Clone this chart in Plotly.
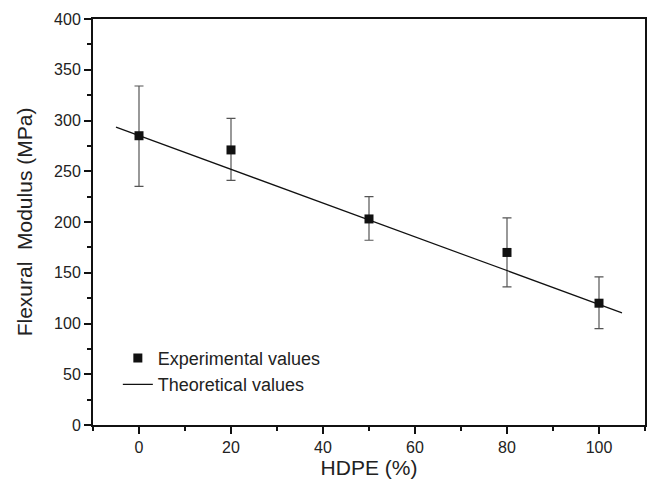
import plotly.graph_objects as go

hdpe = [0, 20, 50, 80, 100]
modulus = [285, 271, 203, 170, 120]
err_plus = [49, 31, 22, 34, 26]
err_minus = [50, 30, 21, 34, 25]

theory_x = [-5, 105]
theory_y = [293.5, 110.5]

x_tick_vals = [0, 20, 40, 60, 80, 100]
y_tick_vals = [0, 50, 100, 150, 200, 250, 300, 350, 400]

FONT = "Liberation Sans, Arial, sans-serif"

fig = go.Figure()
fig.add_trace(go.Scatter(
    x=hdpe, y=modulus, mode="markers", name="Experimental values",
    marker=dict(symbol="square", size=9, color="#111111"),
    error_y=dict(type="data", array=err_plus, arrayminus=err_minus,
                 color="#555555", thickness=1.2, width=4.5),
))
fig.add_trace(go.Scatter(
    x=theory_x, y=theory_y, mode="lines", name="Theoretical values",
    line=dict(color="#111111", width=1.2),
))

axis_common = dict(
    showline=True, linecolor="#111111", linewidth=2, mirror=True,
    ticks="outside", tickcolor="#111111", tickwidth=1.5, ticklen=7,
    showgrid=False, zeroline=False,
    tickfont=dict(family=FONT, size=16, color="#222222"),
)

fig.update_layout(
    width=649, height=486,
    margin=dict(l=93, r=2, t=19, b=61),
    paper_bgcolor="white", plot_bgcolor="white",
    font=dict(family=FONT, color="#222222"),
    xaxis=dict(range=[-10, 110], tickvals=x_tick_vals,
               title=dict(text="HDPE (%)", font=dict(family=FONT, size=21), standoff=3),
               minor=dict(ticks="outside", dtick=10, ticklen=4, tickcolor="#111111", tickwidth=1.5),
               **axis_common),
    yaxis=dict(range=[0, 400], tickvals=y_tick_vals,
               title=dict(text="Flexural  Modulus (MPa)", font=dict(family=FONT, size=21), standoff=16),
               minor=dict(ticks="outside", dtick=25, ticklen=4, tickcolor="#111111", tickwidth=1.5),
               **axis_common),
    legend=dict(x=0.045, y=0.21, xanchor="left", yanchor="top",
                bgcolor="rgba(0,0,0,0)", font=dict(family=FONT, size=18, color="#222222"),
                tracegroupgap=0),
    showlegend=True,
)

fig.write_html("out.html", config={"displayModeBar": False},
               post_script="document.body.style.margin='0';document.body.style.overflow='hidden';")
